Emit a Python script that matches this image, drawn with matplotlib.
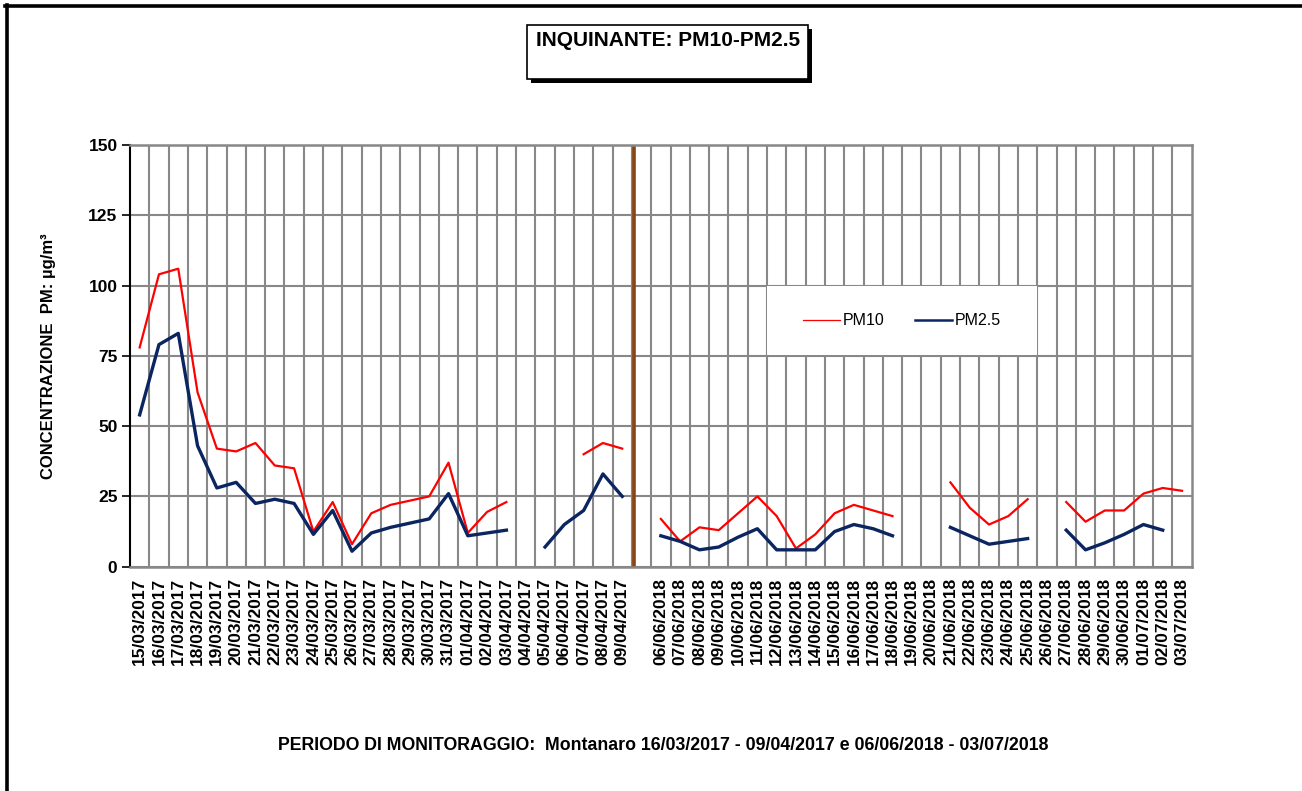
import numpy as np
import matplotlib.pyplot as plt
from matplotlib.lines import Line2D
from matplotlib.patches import Rectangle

plt.rcParams['font.family'] = ['Liberation Sans', 'DejaVu Sans']

# categories: two campaigns with one empty slot between them
dates = [
    "15/03/2017", "16/03/2017", "17/03/2017", "18/03/2017", "19/03/2017",
    "20/03/2017", "21/03/2017", "22/03/2017", "23/03/2017", "24/03/2017",
    "25/03/2017", "26/03/2017", "27/03/2017", "28/03/2017", "29/03/2017",
    "30/03/2017", "31/03/2017", "01/04/2017", "02/04/2017", "03/04/2017",
    "04/04/2017", "05/04/2017", "06/04/2017", "07/04/2017", "08/04/2017",
    "09/04/2017",
    "",
    "06/06/2018", "07/06/2018", "08/06/2018", "09/06/2018", "10/06/2018",
    "11/06/2018", "12/06/2018", "13/06/2018", "14/06/2018", "15/06/2018",
    "16/06/2018", "17/06/2018", "18/06/2018", "19/06/2018", "20/06/2018",
    "21/06/2018", "22/06/2018", "23/06/2018", "24/06/2018", "25/06/2018",
    "26/06/2018", "27/06/2018", "28/06/2018", "29/06/2018", "30/06/2018",
    "01/07/2018", "02/07/2018", "03/07/2018",
]

pm10 = [
    78, 104, 106, 62, 42, 41, 44, 36, 35, 12.5, 23, 8, 19, 22, 23.5, 25, 37,
    12, 19.5, 23, None, None, None, 40, 44, 42,
    None,
    17, 9, 14, 13, 19, 25, 18, 6.5, 11.5, 19, 22, 20, 18, None, None,
    30, 21, 15, 18, 24, None, 23, 16, 20, 20, 26, 28, 27,
]

pm25 = [
    54, 79, 83, 43, 28, 30, 22.5, 24, 22.5, 11.5, 20, 5.5, 12, 14, 15.5, 17,
    26, 11, 12, 13, None, 7, 15, 20, 33, 25,
    None,
    11, 9, 6, 7, 10.5, 13.5, 6, 6, 6, 12.5, 15, 13.5, 11, None, None,
    14, 11, 8, 9, 10, None, 13, 6, 8.5, 11.5, 15, 13, None,
]

yticks = [0, 25, 50, 75, 100, 125, 150]

x = np.arange(len(dates))
v10 = np.array([np.nan if v is None else v for v in pm10], dtype=float)
v25 = np.array([np.nan if v is None else v for v in pm25], dtype=float)

fig = plt.figure(figsize=(13.02, 7.91), dpi=100)
ax = fig.add_axes([130 / 1302, 1 - 566.7 / 791, 1061.7 / 1302, 421.7 / 791])

grey = '#888888'
ax.plot(x, v10, color='#ff0000', lw=1.6, zorder=3)
ax.plot(x, v25, color='#0b2560', lw=2.4, zorder=3)

ax.set_xlim(-0.5, len(dates) - 0.5)
ax.set_ylim(0, 150)
ax.set_yticks(yticks)

lab_idx = [i for i, d in enumerate(dates) if d]
ax.set_xticks(lab_idx)
ax.set_xticklabels([dates[i] for i in lab_idx], rotation=90, fontsize=12.5,
                   fontweight='bold')
ax.set_xticks(np.arange(0.5, len(dates) - 1, 1), minor=True)
ax.tick_params(axis='x', which='both', length=0, pad=8)
ax.tick_params(axis='y', length=6, width=1.2, direction='out', pad=3,
               labelsize=12.5, color='black')
for t in ax.get_yticklabels():
    t.set_fontweight('bold')

ax.set_axisbelow(True)
ax.grid(axis='x', which='minor', color=grey, lw=1.5)
ax.grid(axis='y', which='major', color=grey, lw=1.5)
for s in ['top', 'right', 'bottom']:
    ax.spines[s].set_color(grey)
    ax.spines[s].set_linewidth(1.8)
ax.spines['left'].set_color('black')
ax.spines['left'].set_linewidth(1.5)

# separator between the two campaigns
ax.axvline(25.6, color='#8b4513', lw=2.6, zorder=2)

# legend on a white panel hiding the grid
ax.add_patch(Rectangle((32.5, 75.3), 14, 24.4, facecolor='white',
                       edgecolor='none', zorder=1.5))
handles = [Line2D([], [], color='#ff0000', lw=0.9),
           Line2D([], [], color='#0b2560', lw=1.8)]
ax.legend(handles, ['PM10', 'PM2.5'], ncol=2, frameon=False, fontsize=11.5,
          loc='center', bbox_to_anchor=(39.5, 87.5), bbox_transform=ax.transData,
          handlelength=2.3, handletextpad=0.2, columnspacing=1.9)

ax.set_ylabel('CONCENTRAZIONE  PM: µg/m³', fontsize=12, fontweight='bold')
ax.yaxis.set_label_coords(-74 / 1061.7, 0.5)

# title box with shadow
fig.patches.append(Rectangle((531 / 1302, 1 - 83 / 791), 281 / 1302, 54 / 791,
                             transform=fig.transFigure, facecolor='black',
                             edgecolor='none', zorder=1))
fig.patches.append(Rectangle((527 / 1302, 1 - 79 / 791), 281 / 1302, 54 / 791,
                             transform=fig.transFigure, facecolor='white',
                             edgecolor='black', lw=1.2, zorder=2))
fig.text(668 / 1302, 1 - 41 / 791, 'INQUINANTE: PM10-PM2.5', ha='center',
         va='center', fontsize=15, fontweight='bold', zorder=3)

fig.text(663 / 1302, 1 - 745 / 791,
         'PERIODO DI MONITORAGGIO:  Montanaro 16/03/2017 - 09/04/2017 e '
         '06/06/2018 - 03/07/2018',
         ha='center', va='center', fontsize=12.8, fontweight='bold')

# outer frame (cut at right and bottom)
fig.lines.append(Line2D([5 / 1302, 1], [1 - 6 / 791, 1 - 6 / 791],
                        transform=fig.transFigure, color='black', lw=2.6))
fig.lines.append(Line2D([7 / 1302, 7 / 1302], [1 - 5 / 791, 0],
                        transform=fig.transFigure, color='black', lw=2.6))

fig.savefig('out.png', dpi=100, facecolor='white')
